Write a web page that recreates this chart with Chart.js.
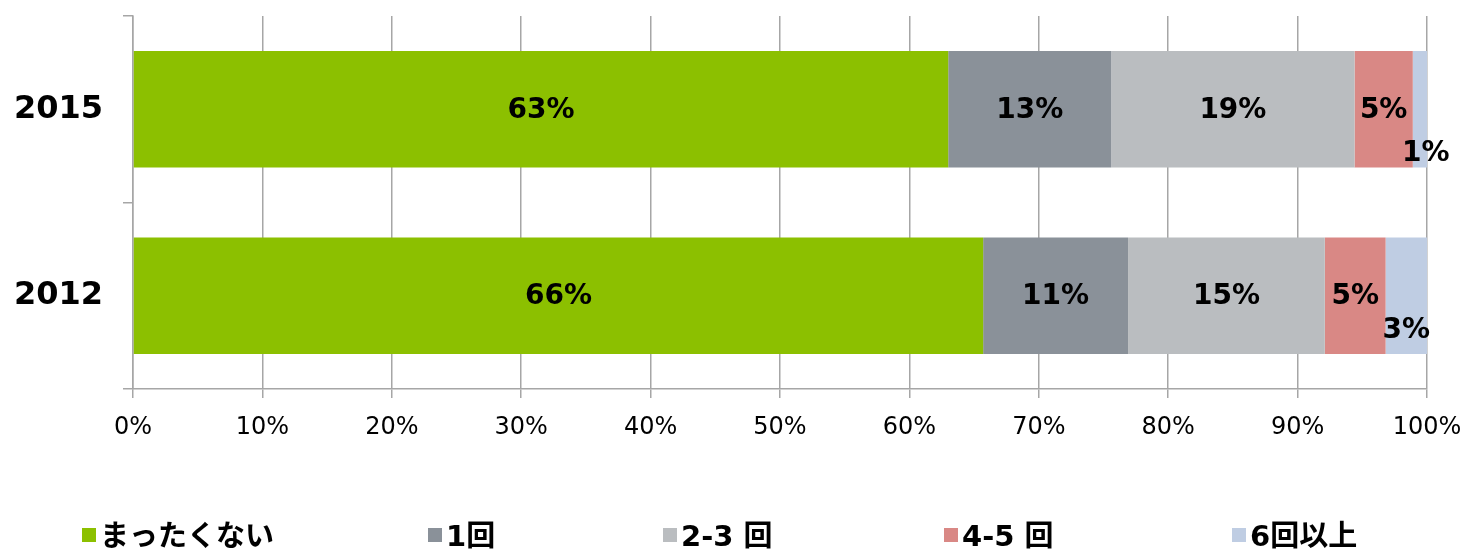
<!DOCTYPE html>
<html>
<head>
<meta charset="utf-8">
<script src="https://cdn.jsdelivr.net/npm/chart.js@4.4.1/dist/chart.umd.min.js"></script>
<style>
  html, body { margin: 0; padding: 0; background: #fff; }
  #wrap { width: 1470px; height: 551px; }
</style>
</head>
<body>
<div id="wrap"><canvas id="barChart" width="1470" height="551"></canvas></div>
<script>
// categories (years) and series (percent of respondents)
const years = ['2015', '2012'];
const seriesNames = ['まったくない', '1回', '2-3 回', '4-5 回', '6回以上'];
const never = [63.0, 65.7];
const once = [12.6, 11.2];
const twoThree = [18.8, 15.2];
const fourFive = [4.5, 4.7];
const sixPlus = [1.1, 3.2];
const xTicks = [0, 10, 20, 30, 40, 50, 60, 70, 80, 90, 100];

const colors = ['#8cc000', '#8a9199', '#babdc0', '#d98885', '#bfcde3'];
const seriesValues = [never, once, twoThree, fourFive, sixPlus];

// Draw the % labels on each segment (no datalabels plugin available offline)
const segmentLabels = {
  id: 'segmentLabels',
  afterDatasetsDraw(chart) {
    const ctx = chart.ctx;
    ctx.save();
    ctx.font = 'bold 28px "DejaVu Sans", Verdana, sans-serif';
    ctx.fillStyle = '#000';
    ctx.textAlign = 'center';
    ctx.textBaseline = 'middle';
    const last = chart.data.datasets.length - 1;
    chart.data.datasets.forEach((ds, i) => {
      chart.getDatasetMeta(i).data.forEach((bar, j) => {
        let cx = (bar.x + bar.base) / 2;
        let cy = bar.y;
        if (i === last) { // small slice: label pushed below
          cy += j === 0 ? 43 : 34;
          if (j === 0) cx += 6;
        }
        ctx.fillText(Math.round(ds.data[j]) + '%', cx, cy + 1);
      });
    });
    ctx.restore();
  }
};

// Legend drawn by hand so the wide spacing between items matches
const legendX = [82, 428, 663, 944, 1232];
const bottomLegend = {
  id: 'bottomLegend',
  afterDraw(chart) {
    const ctx = chart.ctx;
    ctx.save();
    ctx.font = 'bold 29px "DejaVu Sans", "Noto Sans CJK JP", sans-serif';
    const box = 14, textGap = 4;
    const y = 537;
    chart.data.datasets.forEach((ds, i) => {
      const x = legendX[i];
      ctx.fillStyle = ds.backgroundColor;
      ctx.fillRect(x, y - 9, box, box);
      ctx.fillStyle = '#000';
      ctx.textBaseline = 'middle';
      ctx.textAlign = 'left';
      ctx.fillText(ds.label, x + box + textGap, y + 1);
    });
    ctx.restore();
  }
};

const ctx = document.getElementById('barChart').getContext('2d');

new Chart(ctx, {
  type: 'bar',
  data: {
    labels: years,
    datasets: seriesNames.map((name, i) => ({
      label: name,
      data: seriesValues[i],
      backgroundColor: colors[i],
      borderWidth: 0,
      categoryPercentage: 1,
      barPercentage: 0.624
    }))
  },
  options: {
    indexAxis: 'y',
    responsive: false,
    animation: false,
    layout: { padding: { top: 16, right: 43, bottom: 102, left: 0 } },
    plugins: {
      legend: { display: false },
      tooltip: { enabled: false }
    },
    scales: {
      x: {
        stacked: true,
        min: 0,
        max: 100,
        afterBuildTicks: scale => { scale.ticks = xTicks.map(v => ({ value: v })); },
        afterFit: scale => {
          scale.height = 60;
          scale.paddingLeft = 0;
          scale.paddingRight = 0;
        },
        ticks: {
          callback: v => v + '%',
          color: '#000',
          padding: 15,
          maxRotation: 0,
          font: { family: '"DejaVu Sans", Verdana, sans-serif', size: 24 }
        },
        grid: { color: '#a6a6a6', lineWidth: 1.5, tickLength: 9 },
        border: { color: '#a6a6a6', width: 1.5 }
      },
      y: {
        stacked: true,
        afterFit: scale => {
          scale.width = 133;
          scale.paddingTop = 0;
          scale.paddingBottom = 0;
        },
        ticks: {
          color: '#000',
          padding: 20,
          font: { family: '"DejaVu Sans", Verdana, sans-serif', size: 32, weight: 'bold' }
        },
        grid: { drawOnChartArea: false, color: '#a6a6a6', lineWidth: 1.5, tickLength: 10, offset: true },
        border: { color: '#a6a6a6', width: 1.5 }
      }
    }
  },
  plugins: [segmentLabels, bottomLegend]
});
</script>
</body>
</html>
